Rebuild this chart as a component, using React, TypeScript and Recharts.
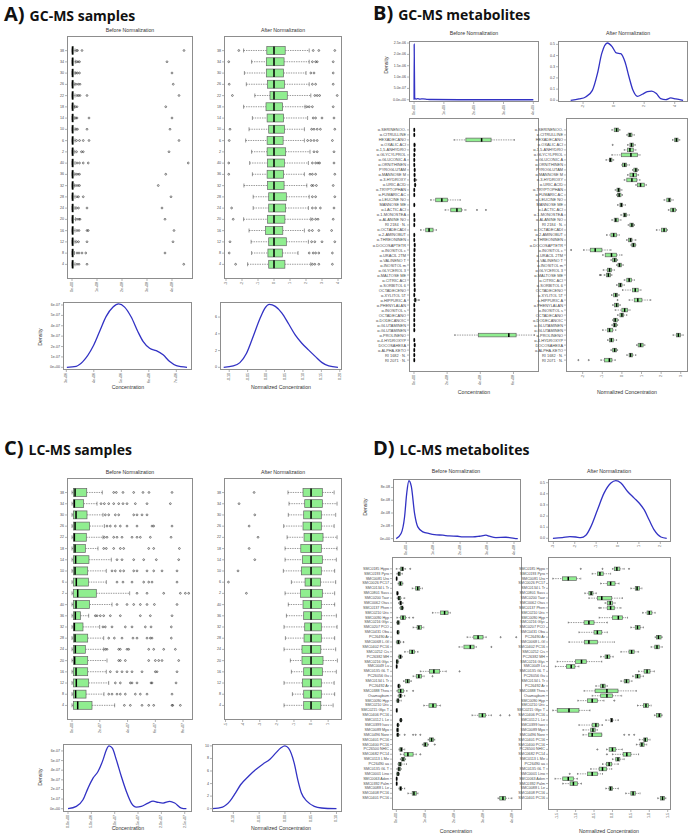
import React from 'react';
import { ComposedChart, Bar, LineChart, Line, XAxis, YAxis } from 'recharts';

// ---- category labels ----
const sampleLabels = ['38', '34', '30', '26', '22', '18', '14', '10', '6', '2', '40', '36', '32', '28', '24', '20', '16', '12', '8', '4'];

const gcMetabolites = [
  'α-SERINENOO-', 'α-CITRULLINE', 'HEXADECANO', 'α-OXALIC ACI', 'α-1,5-ANHYDRO', 'α-GLYCYLPROL', 'α-GLUCONIC A',
  'α-ORNITHINEN', 'PYROGLUTAM', 'α-MANNOSE M', 'α-3-HYDROXY', 'α-URIC ACID', 'α-TRYPTOPHAN', 'α-FUMARIC AC',
  'α-LEUCINE NO', 'MANNOSE ME', 'α-LACTIC ACI', 'α-1-MONOSTEA', 'α-ALANINE NO', 'RI 2184 · N.', 'α-OCTADECADI',
  'α-2-AMINOBUT', 'α-THREONINEN', 'α-DOCOSAPTETR', 'α-INOSITOL c', 'α-URACIL 2TM', 'α-VALINENO T', 'α-INOSITOL m',
  'α-GLYCEROL 3', 'α-MALTOSE ME', 'α-CITRIC ACI', 'α-SORBITOL 6', 'OCTADECENO', 'α-XYLITOL 5T', 'α-HIPPURIC A',
  'α-PHENYLALAN', 'α-INOSITOL s', 'OCTADECANO', 'α-DODECANOIC', 'α-GLUTAMINEN', 'α-GLUTAMINEN', 'α-PROLINENO',
  'α-4-HYDROXYP', 'DOCOSAHEXA', 'α-ALPHA-KETO', 'RI 1682 · N.', 'RI 2071 · N.',
];

const lcMetabolites = [
  'SMC0185 Hypo', 'SMC0193 Pyro', 'SMC0081 Uro', 'SMC0026 PC17', 'SMC0134 L Tr', 'SMC0801 Sass', 'SMC0200 Taur',
  'SMC0062 Otas', 'SMC0137 Phen', 'SMC0210 Uric', 'SMC0090 Hyp', 'SMC0216 Glyc', 'SMC0207 PCO', 'SMC0431 Oba',
  'PC26490 Ar', 'SMC0068 L-Gl', 'SMC0402 PC16', 'SMC0252 Cis', 'PC26382 MH', 'SMC0216 Glyc', 'SMC0049 Lu',
  'SMC0135 GL T', 'PC26056 Gu', 'SMC0134 L Tr', 'PC26492 Ar', 'SMC0388 Thea', 'Osamaybum', 'SMC0090 Hyp',
  'SMC0210 Uric', 'SMC0215 Glyc T', 'SMC0406 PC16', 'SMC0112 L Le', 'SMC0399 Isov', 'SMC0089 Myo', 'SMC0496 Nore',
  'SMC0401 PC16', 'SMC0400 PC16', 'PC26500 NHIC', 'SMC0682 PC14', 'SMC0113 L Me', 'PC26490 aa', 'SMC0135 GL T',
  'SMC0001 Lino', 'SMC0063 Aden', 'SMC0392 Palm', 'SMC0088 L Le', 'SMC0408 PC16', 'SMC0401 PC16',
];

// ---- box stats: [lower whisker, Q1, median, Q3, upper whisker, ...outliers] ----
const gcSamplesBefore = [
  [0, 0.01, 0.02, 0.05, 0.12, 0.18, 0.22, 0.4, 4.48],
  [0, 0.01, 0.02, 0.05, 0.13, 0.18, 0.24, 0.3, 3.8],
  [0, 0.01, 0.02, 0.05, 0.12, 0.16, 0.22, 0.3, 4.0],
  [0, 0.01, 0.02, 0.05, 0.11, 0.16, 0.25, 0.32, 4.05],
  [0, 0.01, 0.02, 0.05, 0.12, 0.2, 0.26, 0.32, 0.6, 4.28],
  [0, 0.01, 0.02, 0.05, 0.1, 0.14, 0.2, 3.75],
  [0, 0.01, 0.02, 0.05, 0.11, 0.16, 0.2, 0.68, 4.0],
  [0, 0.01, 0.02, 0.05, 0.12, 0.17, 0.22, 0.6, 3.92],
  [0, 0.01, 0.02, 0.05, 0.12, 0.18, 0.3, 0.45, 0.68, 4.28],
  [0, 0.01, 0.02, 0.05, 0.11, 0.18, 0.38, 0.45, 3.88],
  [0, 0.01, 0.02, 0.05, 0.12, 0.2, 0.3, 0.45, 0.65, 4.65],
  [0, 0.01, 0.02, 0.05, 0.11, 0.17, 0.24, 0.3, 3.75],
  [0, 0.01, 0.02, 0.05, 0.1, 0.16, 0.24, 0.3, 3.45],
  [0, 0.01, 0.02, 0.05, 0.12, 0.2, 0.26, 0.45, 3.96],
  [0, 0.01, 0.02, 0.05, 0.12, 0.18, 0.26, 0.6, 3.6],
  [0, 0.01, 0.02, 0.06, 0.14, 0.2, 0.28, 0.32, 3.72],
  [0, 0.01, 0.02, 0.05, 0.12, 0.2, 0.28, 0.6, 0.65, 4.08],
  [0, 0.01, 0.02, 0.05, 0.12, 0.18, 0.26, 0.6, 4.04],
  [0, 0.01, 0.02, 0.05, 0.1, 0.2, 0.28, 0.4, 0.55, 3.72],
  [0, 0.01, 0.02, 0.05, 0.12, 0.2, 0.28, 0.6, 4.47],
];

const gcSamplesAfter = [
  [-1.9, -0.45, 0, 0.7, 2.2, -2.2, 2.45, 2.8, 3.8],
  [-1.4, -0.48, 0, 0.63, 2.2, -2.83, 2.4, 2.6, 2.7, 3.7],
  [-1.85, -0.48, 0, 0.6, 2.0, 2.3, 2.5, 3.7],
  [-1.73, -0.4, 0, 0.65, 2.2, -2.8, 2.4, 2.6, 3.7],
  [-1.2, -0.25, 0, 0.83, 2.3, -2.6, 2.55, 2.7, 2.85, 3.95],
  [-1.9, -0.5, 0, 0.54, 1.94, 2.05, 2.2, 2.4, 3.7],
  [-1.35, -0.43, 0, 0.6, 2.1, 2.45, 2.6, 3.0, 3.75],
  [-1.56, -0.33, 0, 0.65, 1.9, -2.75, 2.35, 2.5, 2.7, 2.9, 3.8],
  [-1.77, -0.43, 0, 0.57, 1.9, -2.8, 2.1, 2.3, 2.5, 2.7, 3.65],
  [-1.4, -0.43, 0, 0.73, 2.25, 2.5, 2.7, 3.75],
  [-1.52, -0.4, 0, 0.65, 2.15, -2.83, 2.4, 2.6, 2.75, 2.85, 3.75],
  [-1.35, -0.43, 0, 0.6, 1.9, -2.83, 2.25, 2.4, 2.6, 3.8],
  [-1.88, -0.4, 0, 0.63, 2.05, 2.35, 2.45, 2.65, 3.7],
  [-1.3, -0.33, 0, 0.77, 2.2, 2.4, 2.6, 3.8],
  [-1.3, -0.33, 0, 0.73, 2.15, -2.65, 2.4, 2.6, 2.9, 3.75],
  [-1.9, -0.4, 0, 0.68, 2.3, -2.55, 2.4, 2.6, 2.75, 3.7],
  [-1.56, -0.53, 0, 0.55, 1.9, 2.2, 2.4, 2.8, 3.6],
  [-1.43, -0.33, 0, 0.77, 2.15, -2.75, 2.35, 2.55, 3.0, 3.8],
  [-1.4, -0.38, 0, 0.52, 1.5, -2.8, 2.2, 2.45, 2.6, 2.8, 3.65],
  [-1.65, -0.33, 0, 0.68, 2.3, -2.4, 2.4, 2.55, 2.8, 3.65],
];

const gcMetBefore = [
  [0, 0.01, 0.02, 0.03, 0.05], [0, 0.01, 0.02, 0.03, 0.05], [2.42, 3.13, 4.08, 4.65, 6.06],
  [0, 0.01, 0.03, 0.05, 0.09], [0, 0.02, 0.03, 0.05, 0.08], [0, 0.01, 0.02, 0.04, 0.08],
  [0, 0.01, 0.02, 0.03, 0.06], [0, 0.01, 0.02, 0.04, 0.06], [0, 0.02, 0.04, 0.05, 0.08],
  [0, 0.02, 0.03, 0.05, 0.08], [0, 0.02, 0.04, 0.06, 0.1, 0.14], [0.02, 0.05, 0.07, 0.09, 0.12],
  [0, 0.01, 0.02, 0.03, 0.05], [0, 0.01, 0.02, 0.03, 0.05], [1.01, 1.31, 1.68, 2.02, 2.79],
  [0, 0.01, 0.02, 0.04, 0.06], [1.88, 2.22, 2.59, 2.87, 3.13, 3.8, 4.34], [0, 0.01, 0.02, 0.03, 0.05],
  [0, 0.01, 0.03, 0.04, 0.06], [0, 0.01, 0.02, 0.03, 0.05], [0.4, 0.71, 0.91, 1.15, 1.35],
  [0, 0.01, 0.02, 0.04, 0.06], [0, 0.01, 0.02, 0.03, 0.05], [0, 0.02, 0.04, 0.06, 0.08],
  [0, 0.01, 0.03, 0.05, 0.07], [0, 0.01, 0.02, 0.04, 0.06], [0, 0.01, 0.02, 0.04, 0.06],
  [0, 0.01, 0.02, 0.03, 0.05], [0, 0.02, 0.03, 0.05, 0.07], [0, 0.01, 0.03, 0.05, 0.07],
  [0, 0.01, 0.02, 0.04, 0.06], [0, 0.02, 0.03, 0.05, 0.07], [0, 0.02, 0.04, 0.06, 0.08],
  [0, 0.01, 0.02, 0.04, 0.06], [0, 0.04, 0.07, 0.12, 0.18, 0.3], [0, 0.01, 0.02, 0.03, 0.05],
  [0, 0.01, 0.03, 0.04, 0.06], [0, 0.01, 0.02, 0.03, 0.05], [0, 0.01, 0.02, 0.03, 0.05],
  [0, 0.01, 0.02, 0.04, 0.06], [0, 0.01, 0.02, 0.04, 0.06], [2.46, 3.88, 5.72, 6.16, 7.27],
  [0, 0.01, 0.02, 0.03, 0.05], [0, 0.02, 0.04, 0.06, 0.08], [0, 0.01, 0.02, 0.03, 0.05],
  [0, 0.01, 0.02, 0.04, 0.06], [0, 0.01, 0.02, 0.03, 0.05],
];

const gcMetAfter = [
  [-0.51, -0.39, -0.27, -0.17, -0.1], [0.25, 0.32, 0.41, 0.51, 0.63], [2.58, 2.69, 2.78, 2.86, 2.95],
  [0.29, 0.41, 0.49, 0.58, 0.68, -0.47], [0.12, 0.29, 0.41, 0.58, 0.71], [-0.51, -0.03, 0.46, 0.8, 0.92],
  [-0.81, -0.64, -0.59, -0.51, -0.42], [0, 0.03, 0.14, 0.24, 0.37], [0.54, 0.61, 0.71, 0.78, 0.85],
  [0.29, 0.41, 0.58, 0.75, 0.85], [0.12, 0.25, 0.51, 0.76, 0.92], [0.71, 0.8, 0.95, 1.14, 1.25],
  [-0.34, -0.25, -0.17, -0.1, 0], [-0.27, -0.22, -0.14, -0.05, 0.03], [2.15, 2.29, 2.41, 2.49, 2.61],
  [-0.22, -0.1, -0.03, 0.03, 0.17], [2.37, 2.49, 2.61, 2.73, 2.78], [-0.05, 0.07, 0.15, 0.24, 0.37],
  [-0.51, -0.39, -0.31, -0.19, -0.05], [0.32, 0.41, 0.51, 0.58, 0.64], [1.76, 2.02, 2.15, 2.27, 2.32],
  [-0.78, -0.56, -0.42, -0.27, -0.14], [0.24, 0.34, 0.44, 0.51, 0.71], [0.46, 0.51, 0.59, 0.68, 0.71],
  [-1.95, -1.61, -1.36, -1.02, -0.56, -2.59], [-0.98, -0.85, -0.53, -0.27, 0], [-0.56, -0.47, -0.37, -0.27, -0.22],
  [-0.27, -0.2, -0.12, -0.03, 0.07], [-0.95, -0.73, -0.63, -0.53, -0.39], [-0.9, -0.78, -0.69, -0.59, -0.51, -1.12, -1.07],
  [0.12, 0.25, 0.37, 0.49, 0.63], [-0.27, -0.17, -0.08, 0, 0.12], [0.03, 0.54, 0.68, 0.83, 0.97],
  [-0.53, -0.42, -0.31, -0.22, -0.14], [0.37, 0.63, 0.81, 1.02, 1.47, -0.22], [-0.47, -0.37, -0.27, -0.17, -0.08],
  [-0.34, 0, 0.14, 0.29, 0.41], [-0.22, -0.1, 0, 0.08, 0.25], [-0.47, -0.42, -0.34, -0.24, -0.17],
  [-0.51, -0.44, -0.37, -0.27, -0.22], [-0.98, -0.73, -0.63, -0.47, -0.31], [2.61, 2.78, 2.88, 2.98, 3.12],
  [-0.73, -0.64, -0.54, -0.44, -0.27], [0.75, 0.83, 0.95, 1.08, 1.17], [-0.56, -0.47, -0.37, -0.27, -0.22],
  [0.25, 0.37, 0.44, 0.54, 0.71], [-1.07, -0.88, -0.64, -0.51, -0.34, -2.22, -1.69],
];

const lcSamplesBefore = [
  [0, 0.1, 0.22, 1.06, 2.18, 3.0, 3.19, 3.67, 4.44, 5.11, 5.54, 7.2],
  [0, 0.1, 0.17, 0.84, 1.8, 2.09, 2.33, 2.64, 3.0, 3.36, 3.67, 3.96, 4.56, 5.4, 7.08],
  [0, 0.1, 0.29, 1.08, 2.23, 2.4, 2.64, 3.12, 3.36, 4.44, 4.68, 5.04, 5.4],
  [0, 0.1, 0.22, 1.27, 2.33, 2.52, 2.76, 3.12, 3.48, 3.96, 4.68, 5.76, 5.88, 7.2],
  [0, 0.1, 0.17, 1.03, 2.23, 2.33, 2.52, 3.0, 3.24, 3.6, 4.32, 4.68, 4.92, 5.64, 7.13],
  [0, 0.1, 0.22, 0.96, 1.87, 2.28, 2.47, 3.0, 3.48, 3.72, 5.52, 5.88, 7.73],
  [0, 0.1, 0.26, 1.22, 2.83, 3.24, 3.6, 4.44, 5.16, 6.07, 7.68],
  [0, 0.1, 0.22, 1.13, 2.47, 2.88, 3.12, 3.48, 3.72, 4.44, 4.68, 5.4, 5.88, 6.48, 7.56],
  [0, 0.1, 0.31, 1.18, 2.47, 3.24, 3.67, 4.32, 5.16, 5.52, 5.76, 7.56],
  [0, 0.1, 0.41, 1.75, 4.15, 4.68, 5.4, 6.6, 7.8, 8.16, 8.4],
  [0, 0.1, 0.29, 1.27, 2.88, 3.24, 3.96, 4.44, 4.92, 5.4, 5.93, 7.56],
  [0, 0.1, 0.24, 0.6, 1.2, 1.68, 1.8, 2.04, 2.28, 2.76, 3.48, 4.92, 5.64, 7.2],
  [0, 0.1, 0.17, 0.79, 1.99, 2.23, 2.4, 2.88, 3.84, 4.32, 5.28, 5.69, 7.15],
  [0, 0.1, 0.22, 1.13, 2.28, 2.64, 3.05, 3.6, 4.39, 4.68, 5.4, 5.64, 5.76, 7.15],
  [0, 0.1, 0.24, 0.96, 2.28, 2.4, 2.52, 3.36, 3.48, 3.96, 4.08, 5.52, 5.88, 6.6, 7.44],
  [0, 0.1, 0.19, 1.13, 2.52, 3.36, 3.48, 3.84, 5.52, 6.0, 6.24, 6.48, 7.68],
  [0, 0.1, 0.29, 1.13, 2.47, 2.76, 3.24, 3.6, 3.96, 4.32, 5.04, 6.0, 6.12, 7.56],
  [0, 0.1, 0.31, 1.2, 2.64, 3.12, 3.48, 4.2, 4.32, 4.68, 5.69, 5.76, 7.49],
  [0, 0.1, 0.26, 1.01, 2.3, 2.64, 2.88, 3.24, 3.48, 3.84, 4.56, 4.92, 5.4, 7.2],
  [0, 0.1, 0.41, 1.44, 3.07, 3.77, 4.2, 5.04, 5.52, 5.88, 7.2, 7.25, 7.8],
];

const lcSamplesAfter = [
  [-1.35, -0.47, 0, 0.66, 1.35, -3.33], [-1.29, -0.37, 0, 0.66, 1.52, -4.21], [-1.33, -0.43, 0, 0.6, 1.44, -3.29],
  [-1.6, -0.47, 0, 0.6, 1.35, -3.62], [-1.4, -0.41, 0, 0.7, 1.52, -3.1], [-1.52, -0.6, 0, 0.6, 1.52, -3.62],
  [-1.52, -0.51, 0, 0.66, 1.48, -3.29], [-1.62, -0.56, 0, 0.6, 1.38, -4.27], [-1.15, -0.35, 0, 0.55, 1.44, -4.83],
  [-1.52, -0.62, 0, 0.66, 1.38, -3.78], [-1.33, -0.47, 0, 0.6, 1.38], [-1.44, -0.43, 0, 0.6, 1.48],
  [-1.58, -0.37, 0, 0.6, 1.52], [-1.5, -0.41, 0, 0.6, 1.38], [-1.58, -0.53, 0, 0.57, 1.44],
  [-1.21, -0.53, 0, 0.7, 1.54], [-1.15, -0.43, 0, 0.66, 1.48], [-1.58, -0.51, 0, 0.6, 1.35],
  [-1.09, -0.43, 0, 0.6, 1.38], [-1.58, -0.43, 0, 0.57, 1.29],
];

const lcMetBefore = [
  [0, 0.15, 0.21, 0.25, 0.32, 0.48], [0.02, 0.06, 0.09, 0.14, 0.21], [0, 0.005, 0.01, 0.015, 0.02],
  [0.06, 0.09, 0.14, 0.2, 0.23], [0.55, 0.67, 0.74, 0.81, 0.9], [0.01, 0.02, 0.04, 0.05, 0.07],
  [0.03, 0.06, 0.09, 0.15, 0.29], [0.08, 0.12, 0.15, 0.18, 0.23], [0.12, 0.15, 0.2, 0.23, 0.25],
  [1.25, 1.53, 1.67, 1.79, 1.87], [0.02, 0.15, 0.23, 0.32, 0.46, 0.58], [0.01, 0.03, 0.06, 0.1, 0.12],
  [0.58, 0.72, 0.78, 0.87, 0.95], [0.02, 0.03, 0.05, 0.09, 0.1], [2.45, 2.68, 2.83, 3.0, 3.11, 3.61, 4.15],
  [0, 0.02, 0.07, 0.12, 0.15, 0.25], [2.17, 2.34, 2.56, 2.69, 2.77, 3.29], [0.29, 0.46, 0.55, 0.63, 0.75],
  [0.07, 0.09, 0.14, 0.17, 0.21], [0, 0.01, 0.02, 0.06, 0.08], [0, 0.005, 0.01, 0.02, 0.03],
  [0.83, 1.15, 1.3, 1.5, 1.73, 2.19], [0.58, 0.69, 0.78, 0.87, 0.96, 1.25], [0.25, 0.32, 0.39, 0.46, 0.52],
  [0.05, 0.06, 0.08, 0.12, 0.14], [0.02, 0.06, 0.15, 0.25, 0.37, 0.58], [0.06, 0.09, 0.14, 0.18, 0.29],
  [0, 0.02, 0.06, 0.09, 0.17], [0.95, 1.13, 1.27, 1.38, 1.53], [0, 0.005, 0.01, 0.03, 0.04],
  [2.62, 2.86, 2.98, 3.09, 3.29, 3.6, 3.92], [0.11, 0.13, 0.16, 0.18, 0.2], [0.02, 0.03, 0.05, 0.08, 0.1],
  [0.01, 0.02, 0.04, 0.07, 0.08], [0.01, 0.02, 0.05, 0.08, 0.12, 0.29, 0.58, 0.67, 0.83], [1.1, 1.15, 1.22, 1.29, 1.33],
  [0.9, 0.95, 1.0, 1.07, 1.11, 1.33], [0.09, 0.12, 0.17, 0.21, 0.29], [0.14, 0.27, 0.4, 0.58, 0.69, 0.83],
  [0.14, 0.18, 0.23, 0.29, 0.32], [0.06, 0.08, 0.13, 0.17, 0.35], [0.02, 0.06, 0.09, 0.14, 0.17],
  [0.01, 0.02, 0.06, 0.09, 0.11], [0, 0.005, 0.01, 0.02, 0.03], [0, 0.005, 0.01, 0.02, 0.03],
  [0.09, 0.12, 0.15, 0.18, 0.29], [0.4, 0.55, 0.61, 0.69, 0.75], [3.52, 3.58, 3.69, 3.78, 4.0],
];

const lcMetAfter = [
  [0, 0.05, 0.12, 0.2, 0.32, -0.86, -0.27, 0.45], [-0.55, -0.41, -0.34, -0.25, -0.05], [-1.62, -1.36, -1.2, -0.98, -0.86],
  [-0.32, -0.14, -0.05, 0.07, 0.18], [0.5, 0.62, 0.67, 0.73, 0.8], [-0.75, -0.64, -0.58, -0.53, -0.44],
  [-0.64, -0.41, -0.29, -0.02, 0.27], [-0.2, -0.14, -0.06, 0, 0.07], [-0.32, -0.14, -0.05, 0.05, 0.23, -0.36],
  [0.82, 0.94, 1.0, 1.07, 1.16], [-0.36, 0, 0.16, 0.27, 0.41], [-1.2, -0.77, -0.64, -0.5, -0.14],
  [0.5, 0.62, 0.68, 0.75, 0.84], [-0.91, -0.5, -0.41, -0.29, -0.14], [1.16, 1.2, 1.25, 1.32, 1.35],
  [-1.18, -0.76, -0.64, -0.41, 0.05], [1.05, 1.15, 1.21, 1.27, 1.35], [0.23, 0.45, 0.52, 0.59, 0.71],
  [-0.32, -0.2, -0.14, -0.07, 0.02], [-1.5, -1.0, -0.84, -0.71, -0.29], [-1.55, -1.25, -1.12, -1.02, -0.91],
  [0.71, 0.86, 0.94, 1.02, 1.14], [0.55, 0.62, 0.68, 0.75, 0.84], [0.23, 0.32, 0.38, 0.45, 0.53],
  [-0.45, -0.32, -0.26, -0.2, -0.14], [-0.77, -0.47, -0.15, 0.15, 0.65], [-0.55, -0.32, -0.15, 0, 0.25],
  [-0.94, -0.68, -0.55, -0.41, -0.23, 0.05], [0.68, 0.84, 0.91, 0.98, 1.05], [-1.62, -1.5, -1.18, -0.91, -0.61],
  [1.14, 1.2, 1.27, 1.32, 1.35], [-0.18, -0.05, -0.02, 0, 0.16], [-0.91, -0.55, -0.45, -0.38, -0.27],
  [-0.8, -0.59, -0.53, -0.47, -0.41], [-0.8, -0.65, -0.55, -0.29, -0.29, 0.32, 0.45, 0.59], [0.73, 0.85, 0.89, 0.95, 1.02],
  [0.65, 0.75, 0.8, 0.86, 0.93], [-0.16, -0.09, 0, 0.09, 0.27, -0.41], [0, 0.29, 0.39, 0.5, 0.71, -0.15],
  [0, 0.09, 0.15, 0.2, 0.32], [-0.27, -0.16, -0.09, -0.02, 0.16], [-0.59, -0.36, -0.27, -0.16, -0.02],
  [-0.95, -0.68, -0.55, -0.41, -0.27, -1.16], [-1.56, -1.35, -1.2, -1.06, -0.95], [-1.35, -1.15, -1.06, -0.95, -0.84],
  [-0.18, -0.09, -0.05, 0, 0.16], [0.36, 0.5, 0.56, 0.62, 0.75], [1.23, 1.3, 1.36, 1.41, 1.45],
];

// ---- density curves: [x, density] ----
const gcSampleDensBefore = [[3.02, 0], [3.36, 0.1], [3.6, 0.55], [3.97, 2.0], [4.21, 3.45], [4.45, 4.9], [4.7, 5.8], [4.9, 6.1], [5.12, 5.8], [5.36, 4.84], [5.6, 3.45], [5.79, 2.5], [6.03, 1.84], [6.27, 1.6], [6.52, 1.2], [6.76, 0.55], [7.0, 0.16], [7.39, 0]];
const gcSampleDensAfter = [[-0.115, 0], [-0.089, 0.16], [-0.071, 0.56], [-0.053, 1.68], [-0.035, 3.68], [-0.016, 5.88], [-0.003, 7.08], [0.009, 7.52], [0.025, 7.28], [0.043, 6.48], [0.061, 5.2], [0.079, 3.88], [0.097, 2.88], [0.115, 2.08], [0.134, 1.28], [0.152, 0.56], [0.17, 0.16], [0.195, 0]];
const gcMetDensBefore = [[0, 0], [0.004, 2.45], [0.02, 0.08], [0.06, 0.03], [0.12, 0.05], [0.2, 0.03], [0.3, 0.04], [0.45, 0.02], [0.6, 0.01], [1.5, 0], [4.0, 0]];
const gcMetDensAfter = [[-2.81, 0], [-2.26, 0.012], [-1.83, 0.03], [-1.39, 0.089], [-1.06, 0.238], [-0.78, 0.417], [-0.41, 0.512], [-0.08, 0.476], [0.18, 0.423], [0.47, 0.417], [0.75, 0.342], [1.01, 0.208], [1.27, 0.089], [1.56, 0.036], [1.88, 0.054], [2.21, 0.077], [2.49, 0.083], [2.8, 0.06], [3.08, 0.015], [3.41, 0.006], [3.74, 0.021], [4.07, 0.012], [4.55, 0]];
const lcSampleDensBefore = [[0, 0], [1.79, 0.24], [3.21, 0.93], [4.29, 2.14], [5.36, 3.17], [6.43, 3.86], [7.5, 5.07], [8.21, 6.1], [8.79, 6.52], [9.5, 6.28], [10.36, 5.07], [11.43, 3.34], [12.5, 1.79], [13.57, 0.59], [14.64, 0.17], [15.71, 0.24], [17.14, 0.59], [18.21, 0.79], [19.29, 0.66], [20.36, 0.59], [21.79, 0.76], [22.86, 0.59], [24.29, 0.07], [25.36, 0]];
const lcSampleDensAfter = [[-0.141, 0], [-0.121, 0.26], [-0.107, 1.16], [-0.096, 2.49], [-0.086, 3.81], [-0.071, 5.13], [-0.057, 6.19], [-0.043, 7.09], [-0.029, 7.88], [-0.018, 8.84], [-0.007, 9.74], [0, 10.0], [0.007, 9.63], [0.018, 7.25], [0.025, 4.6], [0.032, 2.49], [0.043, 1.16], [0.057, 0.37], [0.071, 0.11], [0.1, 0]];
const lcMetDensBefore = [[-0.37, 0], [-0.19, 0.79], [-0.06, 3.42], [0.02, 7.11], [0.1, 9.05], [0.19, 8.16], [0.31, 3.95], [0.43, 1.84], [0.62, 1.05], [0.86, 0.79], [1.05, 0.63], [1.36, 0.53], [1.6, 0.42], [1.91, 0.37], [2.1, 0.26], [2.47, 0.26], [2.72, 0.37], [2.96, 0.53], [3.09, 0.37], [3.33, 0.16], [3.7, 0.21], [4.01, 0.05], [4.14, 0]];
const lcMetDensAfter = [[-3.02, 0], [-2.58, 0.006], [-2.23, 0.015], [-1.95, 0.012], [-1.72, 0.006], [-1.48, 0.027], [-1.25, 0.103], [-0.94, 0.255], [-0.63, 0.406], [-0.31, 0.497], [-0.08, 0.518], [0.16, 0.497], [0.47, 0.421], [0.78, 0.361], [1.02, 0.315], [1.25, 0.255], [1.48, 0.164], [1.72, 0.073], [2.03, 0.012], [2.3, 0]];

// ---- tick values and labels ----
const ticksAB = [0, 1, 2, 3, 4];
const labelsAB = ['0e+00', '1e+08', '2e+08', '3e+08', '4e+08'];
const ticksAA = [-3, -2, -1, 0, 1, 2, 3, 4];
const ticksADx = [3, 4, 5, 6, 7];
const labelsADx = ['3e+06', '4e+06', '5e+06', '6e+06', '7e+06'];
const ticksADy = [0, 1, 2, 3, 4, 5, 6];
const labelsADy = ['0e+00', '1e-07', '2e-07', '3e-07', '4e-07', '5e-07', '6e-07'];
const ticksANx = [-0.1, -0.05, 0, 0.05, 0.1, 0.15, 0.2];
const labelsANx = ['-0.10', '-0.05', '0.00', '0.05', '0.10', '0.15', '0.20'];
const ticksANy = [0, 2, 4, 6];
const ticksBB = [0, 2, 4, 6];
const labelsBB = ['0e+00', '2e+08', '4e+08', '6e+08'];
const ticksBA = [-2, -1, 0, 1, 2, 3];
const ticksBDx = [0, 1, 2, 3, 4];
const labelsBDx = ['0e+00', '1e+09', '2e+09', '3e+09', '4e+09'];
const ticksBDy = [0, 0.5, 1, 1.5, 2, 2.5];
const labelsBDy = ['0.0e+00', '5.0e-07', '1.0e-06', '1.5e-06', '2.0e-06', '2.5e-06'];
const ticksBNx = [-2, 0, 2, 4];
const ticksBNy = [0, 0.1, 0.2, 0.3, 0.4, 0.5];
const labelsBNy = ['0.0', '0.1', '0.2', '0.3', '0.4', '0.5'];
const ticksCB = [0, 2, 4, 6, 8];
const labelsCB = ['0e+00', '2e+07', '4e+07', '6e+07', '8e+07'];
const ticksCA = [-5, -4, -3, -2, -1, 0, 1];
const ticksCDx = [0, 5, 10, 15, 20, 25];
const labelsCDx = ['0.0e+00', '5.0e+06', '1.0e+07', '1.5e+07', '2.0e+07', '2.5e+07'];
const ticksCDy = [0, 1, 2, 3, 4, 5, 6];
const ticksCNx = [-0.1, -0.05, 0, 0.05, 0.1];
const labelsCNx = ['-0.10', '-0.05', '0.00', '0.05', '0.10'];
const ticksCNy = [0, 2, 4, 6, 8, 10];
const ticksDB = [0, 1, 2, 3, 4];
const ticksDA = [-1.5, -1, -0.5, 0, 0.5, 1, 1.5];
const labelsDA = ['-1.5', '-1.0', '-0.5', '0.0', '0.5', '1.0', '1.5'];
const ticksDDy = [0, 2, 4, 6, 8];
const labelsDDy = ['0e+00', '2e-08', '4e-08', '6e-08', '8e-08'];
const ticksDNx = [-3, -2, -1, 0, 1, 2];

const FRAME = '1.4px solid #8d8d8d';
const TICK_FILL = '#4a4a4a';
const AXIS_H = 24;
const NOMARGIN = { top: 0, right: 0, bottom: 0, left: 0 };

const str = (t: number[]) => t.map((v) => String(v));

const VTick = ({ x, y, payload, labels }: any) => (
  <text
    x={x}
    y={y}
    transform={`rotate(-90 ${x} ${y})`}
    textAnchor="end"
    dominantBaseline="central"
    fontSize={3.6}
    fill={TICK_FILL}
  >
    {labels[payload.index]}
  </text>
);

const HTick = ({ x, y, payload, label, font }: any) => (
  <text x={x} y={y} textAnchor="end" dominantBaseline="central" fontSize={font} fill={TICK_FILL}>
    {label(payload)}
  </text>
);

const BoxShape = (props: any) => {
  const { x, y, width, height, payload } = props;
  const [a, b] = payload.span;
  const px = (v: number) => x + ((v - a) / (b - a)) * width;
  const cy = y + height / 2;
  const h = height * 0.72;
  const dash = { stroke: '#333', strokeWidth: 0.5, strokeDasharray: '1.4 1' };
  const cap = { stroke: '#333', strokeWidth: 0.5 };
  return (
    <g>
      <line x1={px(payload.lo)} x2={px(payload.q1)} y1={cy} y2={cy} {...dash} />
      <line x1={px(payload.q3)} x2={px(payload.hi)} y1={cy} y2={cy} {...dash} />
      <line x1={px(payload.lo)} x2={px(payload.lo)} y1={cy - h / 4} y2={cy + h / 4} {...cap} />
      <line x1={px(payload.hi)} x2={px(payload.hi)} y1={cy - h / 4} y2={cy + h / 4} {...cap} />
      <rect
        x={px(payload.q1)}
        y={cy - h / 2}
        width={Math.max(px(payload.q3) - px(payload.q1), 0.3)}
        height={h}
        fill="#90ee90"
        stroke="#666"
        strokeWidth={0.7}
      />
      <line x1={px(payload.med)} x2={px(payload.med)} y1={cy - h / 2} y2={cy + h / 2} stroke="#000" strokeWidth={1.5} />
      {payload.outs.map((o: number, i: number) => (
        <circle key={i} cx={px(o)} cy={cy} r={Math.min(0.9, h * 0.16)} fill="none" stroke="#333" strokeWidth={0.6} />
      ))}
    </g>
  );
};

function BoxPlot({ stats, labels, frame, domain, ticks, tickLabels, labelW, font }: any) {
  const rows = stats.map((s: number[], i: number) => {
    const [lo, q1, med, q3, hi, ...outs] = s;
    const all = [lo, hi, ...outs];
    return { id: String(i), lo, q1, med, q3, hi, outs, span: [Math.min(...all), Math.max(...all)] };
  });
  const pad = frame.h * 0.037;
  return (
    <div style={{ position: 'absolute', left: frame.l - labelW, top: frame.t }}>
      <ComposedChart
        width={labelW + frame.w}
        height={frame.h + AXIS_H}
        data={rows}
        layout="vertical"
        margin={NOMARGIN}
        barCategoryGap={0}
      >
        <XAxis
          type="number"
          domain={domain}
          ticks={ticks}
          allowDataOverflow
          interval={0}
          height={AXIS_H}
          axisLine={false}
          tickSize={2}
          tickMargin={1}
          tickLine={{ stroke: '#666', strokeWidth: 0.5 }}
          tick={(p: any) => <VTick {...p} labels={tickLabels} />}
        />
        <YAxis
          type="category"
          dataKey="id"
          width={labelW}
          padding={{ top: pad, bottom: pad }}
          interval={0}
          axisLine={false}
          tickSize={2}
          tickMargin={1}
          tickLine={{ stroke: '#666', strokeWidth: 0.5 }}
          tick={(p: any) => <HTick {...p} font={font} label={(pl: any) => labels[Number(pl.value)]} />}
        />
        <Bar dataKey="span" shape={BoxShape} isAnimationActive={false} />
      </ComposedChart>
      <div
        style={{ position: 'absolute', left: labelW, top: 0, width: frame.w, height: frame.h, border: FRAME, boxSizing: 'border-box', pointerEvents: 'none' }}
      />
    </div>
  );
}

function Density({ points, frame, xDomain, xTicks, xLabels, yDomain, yTicks, yLabels, labelW }: any) {
  const data = points.map(([x, y]: number[]) => ({ x, y }));
  return (
    <div style={{ position: 'absolute', left: frame.l - labelW, top: frame.t }}>
      <LineChart width={labelW + frame.w} height={frame.h + AXIS_H} data={data} margin={NOMARGIN}>
        <XAxis
          type="number"
          dataKey="x"
          domain={xDomain}
          ticks={xTicks}
          allowDataOverflow
          interval={0}
          height={AXIS_H}
          axisLine={false}
          tickSize={2}
          tickMargin={1}
          tickLine={{ stroke: '#666', strokeWidth: 0.5 }}
          tick={(p: any) => <VTick {...p} labels={xLabels} />}
        />
        <YAxis
          type="number"
          domain={yDomain}
          ticks={yTicks}
          allowDataOverflow
          interval={0}
          width={labelW}
          axisLine={false}
          tickSize={2}
          tickMargin={1}
          tickLine={{ stroke: '#666', strokeWidth: 0.5 }}
          tick={(p: any) => <HTick {...p} font={3.6} label={(pl: any) => yLabels[pl.index]} />}
        />
        <Line type="monotone" dataKey="y" stroke="#3232c4" strokeWidth={1.3} dot={false} isAnimationActive={false} />
      </LineChart>
      <div
        style={{ position: 'absolute', left: labelW, top: 0, width: frame.w, height: frame.h, border: FRAME, boxSizing: 'border-box', pointerEvents: 'none' }}
      />
    </div>
  );
}

const Txt = ({ x, y, children, size = 5.2, rotate = false }: any) => (
  <div
    style={{
      position: 'absolute',
      left: x,
      top: y,
      transform: `translate(-50%, -50%)${rotate ? ' rotate(-90deg)' : ''}`,
      fontSize: size,
      color: '#333',
      whiteSpace: 'nowrap',
      lineHeight: 1,
    }}
  >
    {children}
  </div>
);

// baseline sits about 18px below the top of the block
const Heading = ({ x, y, letter, text }: any) => (
  <div
    style={{
      position: 'absolute',
      left: x,
      top: y,
      fontFamily: '"Open Sans", sans-serif',
      fontWeight: 700,
      whiteSpace: 'nowrap',
      lineHeight: 1,
      color: '#111',
    }}
  >
    <span style={{ fontSize: 20 }}>{letter}</span>
    <span style={{ fontSize: 14, marginLeft: 5 }}>{text}</span>
  </div>
);

export default function App() {
  return (
    <div
      style={{
        position: 'absolute',
        left: 0,
        top: 0,
        width: 692,
        height: 838,
        background: '#fff',
        overflow: 'hidden',
        fontFamily: '"Liberation Sans", Arial, sans-serif',
      }}
    >
      {/* A) GC-MS samples */}
      <Heading x={4} y={4} letter="A)" text="GC-MS samples" />
      <Txt x={130} y={31}>Before Normalization</Txt>
      <Txt x={283} y={31}>After Normalization</Txt>
      <BoxPlot stats={gcSamplesBefore} labels={sampleLabels} frame={{ l: 67, t: 36, w: 126, h: 243 }} domain={[-0.2, 4.84]} ticks={ticksAB} tickLabels={labelsAB} labelW={30} font={3.6} />
      <BoxPlot stats={gcSamplesAfter} labels={sampleLabels} frame={{ l: 224, t: 36, w: 118, h: 243 }} domain={[-3.125, 4.25]} ticks={ticksAA} tickLabels={str(ticksAA)} labelW={30} font={3.6} />
      <Density points={gcSampleDensBefore} frame={{ l: 63, t: 302, w: 129, h: 68 }} xDomain={[2.88, 7.57]} xTicks={ticksADx} xLabels={labelsADx} yDomain={[-0.26, 6.29]} yTicks={ticksADy} yLabels={labelsADy} labelW={26} />
      <Density points={gcSampleDensAfter} frame={{ l: 220, t: 302, w: 122, h: 68 }} xDomain={[-0.125, 0.206]} xTicks={ticksANx} xLabels={labelsANx} yDomain={[-0.32, 7.8]} yTicks={ticksANy} yLabels={str(ticksANy)} labelW={18} />
      <Txt x={41} y={337} rotate>Density</Txt>
      <Txt x={128} y={388}>Concentration</Txt>
      <Txt x={281} y={388}>Normalized Concentration</Txt>

      {/* B) GC-MS metabolites */}
      <Heading x={373} y={3} letter="B)" text="GC-MS metabolites" />
      <Txt x={474} y={34}>Before Normalization</Txt>
      <Txt x={628} y={34}>After Normalization</Txt>
      <Density points={gcMetDensBefore} frame={{ l: 409, t: 41, w: 130, h: 61 }} xDomain={[-0.17, 4.19]} xTicks={ticksBDx} xLabels={labelsBDx} yDomain={[-0.1, 2.59]} yTicks={ticksBDy} yLabels={labelsBDy} labelW={28} />
      <Density points={gcMetDensAfter} frame={{ l: 558, t: 41, w: 130, h: 61 }} xDomain={[-3.64, 4.87]} xTicks={ticksBNx} xLabels={str(ticksBNx)} yDomain={[-0.015, 0.53]} yTicks={ticksBNy} yLabels={labelsBNy} labelW={16} />
      <Txt x={387} y={65} rotate>Density</Txt>
      <BoxPlot stats={gcMetBefore} labels={gcMetabolites} frame={{ l: 409, t: 118, w: 130, h: 254 }} domain={[-0.3, 7.54]} ticks={ticksBB} tickLabels={labelsBB} labelW={42} font={3.9} />
      <BoxPlot stats={gcMetAfter} labels={gcMetabolites} frame={{ l: 566, t: 118, w: 122, h: 254 }} domain={[-2.85, 3.37]} ticks={ticksBA} tickLabels={str(ticksBA)} labelW={40} font={3.9} />
      <Txt x={474} y={393}>Concentration</Txt>
      <Txt x={627} y={393}>Normalized Concentration</Txt>

      {/* C) LC-MS samples */}
      <Heading x={4} y={438} letter="C)" text="LC-MS samples" />
      <Txt x={130} y={473}>Before Normalization</Txt>
      <Txt x={283} y={473}>After Normalization</Txt>
      <BoxPlot stats={lcSamplesBefore} labels={sampleLabels} frame={{ l: 67, t: 478, w: 126, h: 242 }} domain={[-0.36, 8.71]} ticks={ticksCB} tickLabels={labelsCB} labelW={30} font={3.6} />
      <BoxPlot stats={lcSamplesAfter} labels={sampleLabels} frame={{ l: 224, t: 478, w: 118, h: 242 }} domain={[-5.09, 1.81]} ticks={ticksCA} tickLabels={str(ticksCA)} labelW={30} font={3.6} />
      <Density points={lcSampleDensBefore} frame={{ l: 63, t: 744, w: 129, h: 68 }} xDomain={[-1.07, 26.56]} xTicks={ticksCDx} xLabels={labelsCDx} yDomain={[-0.34, 6.72]} yTicks={ticksCDy} yLabels={labelsADy} labelW={26} />
      <Density points={lcSampleDensAfter} frame={{ l: 212, t: 744, w: 130, h: 68 }} xDomain={[-0.1414, 0.1107]} xTicks={ticksCNx} xLabels={labelsCNx} yDomain={[-0.53, 10.3]} yTicks={ticksCNy} yLabels={str(ticksCNy)} labelW={18} />
      <Txt x={41} y={777} rotate>Density</Txt>
      <Txt x={128} y={829}>Concentration</Txt>
      <Txt x={281} y={829}>Normalized Concentration</Txt>

      {/* D) LC-MS metabolites */}
      <Heading x={373} y={438} letter="D)" text="LC-MS metabolites" />
      <Txt x={456} y={472}>Before Normalization</Txt>
      <Txt x={609} y={472}>After Normalization</Txt>
      <Density points={lcMetDensBefore} frame={{ l: 393, t: 479, w: 128, h: 63 }} xDomain={[-0.49, 4.26]} xTicks={ticksDB} xLabels={labelsAB} yDomain={[-0.53, 9.32]} yTicks={ticksDDy} yLabels={labelsDDy} labelW={26} />
      <Density points={lcMetDensAfter} frame={{ l: 548, t: 479, w: 123, h: 63 }} xDomain={[-3.25, 2.5]} xTicks={ticksDNx} xLabels={str(ticksDNx)} yDomain={[-0.033, 0.533]} yTicks={ticksBNy} yLabels={labelsBNy} labelW={16} />
      <Txt x={366} y={507} rotate>Density</Txt>
      <BoxPlot stats={lcMetBefore} labels={lcMetabolites} frame={{ l: 392, t: 557, w: 130, h: 253 }} domain={[-0.15, 4.35]} ticks={ticksDB} tickLabels={labelsAB} labelW={38} font={3.7} />
      <BoxPlot stats={lcMetAfter} labels={lcMetabolites} frame={{ l: 548, t: 557, w: 123, h: 253 }} domain={[-1.75, 1.59]} ticks={ticksDA} tickLabels={labelsDA} labelW={34} font={3.7} />
      <Txt x={456} y={832}>Concentration</Txt>
      <Txt x={609} y={832}>Normalized Concentration</Txt>
    </div>
  );
}
